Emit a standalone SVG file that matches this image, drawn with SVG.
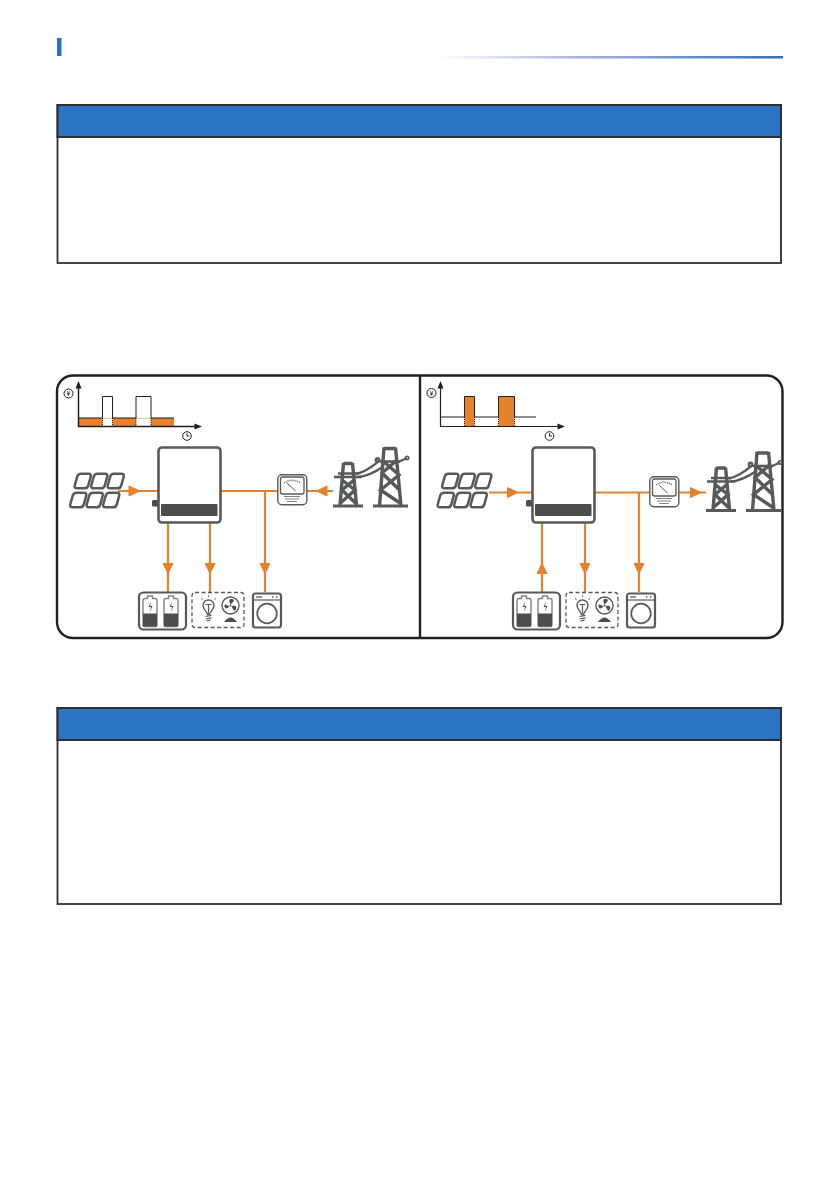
<svg xmlns="http://www.w3.org/2000/svg" xmlns:xlink="http://www.w3.org/1999/xlink" width="839" height="1191" viewBox="0 0 839 1191">
<style>
.tbl{fill:#fff;stroke:#2f2f31;stroke-width:1.800}
.hdr{fill:#2b74c4;stroke:#2f2f31;stroke-width:2}
.frame{fill:none;stroke:#231f20;stroke-width:2.400}
.flow{fill:none;stroke:#e5822b;stroke-width:2.200}
.head{fill:#e5822b;stroke:#e5822b;stroke-width:1;stroke-linejoin:round}
.ic{fill:none;stroke:#58595b;stroke-width:2.500;stroke-linejoin:round}
.axis{fill:none;stroke:#231f20;stroke-width:1.500}
.tw{fill:none;stroke:#58595b;stroke-width:3.400}
.dot{fill:none;stroke:#231f20;stroke-width:1;stroke-dasharray:1 1}
.sym{font-family:"Liberation Sans",sans-serif;font-size:7px;fill:#231f20;text-anchor:middle}
</style>
<defs>
<linearGradient id="rule" x1="0" x2="1" y1="0" y2="0"><stop offset="0" stop-color="#fff"/><stop offset=".4" stop-color="#a9b5dd"/><stop offset="1" stop-color="#2f72bd"/></linearGradient>
<path id="cell" d="M8 1.200h7.500q3 0 2.200 3l-2.400 8.600q-.8 3-3.800 3H4q-3 0-2.200-3l2.400-8.600q.8-3 3.800-3z"/>
<g id="pv" class="ic">
<use xlink:href="#cell" href="#cell" x="0"/>
<use xlink:href="#cell" href="#cell" x="16.500"/>
<use xlink:href="#cell" href="#cell" x="33"/>
</g>
<g id="inverter">
<rect x="1" y="1" width="62" height="75" rx="3.500" fill="#fff" stroke="#58595b" stroke-width="2.600"/>
<rect x="3.500" y="57.500" width="56.500" height="12" rx="1" fill="#4d4d4f"/>
<rect x="-5.500" y="53.500" width="6" height="6.500" rx="1.500" fill="#4d4d4f"/>
</g>
<g id="meter">
<rect x="0.800" y="0.800" width="29" height="30" rx="4" fill="#fff" stroke="#58595b" stroke-width="1.400"/>
<rect x="3.500" y="3" width="23.500" height="17" rx="2" fill="none" stroke="#58595b" stroke-width="1.300"/>
<path d="M7 9Q15 3.500 23.500 9" fill="none" stroke="#58595b" stroke-width="1.500" stroke-dasharray="1 1"/>
<path d="M10 9l8.500 8" fill="none" stroke="#58595b" stroke-width="1"/>
<path d="M7 22.500h16M8 25h14M10 27.500h10" fill="none" stroke="#808285" stroke-width="1"/>
</g>
<g id="towers" class="tw">
<path d="M1 20H29M5 16.500H25" stroke-width="2.600"/>
<path d="M10.500 6.500H19.500M10.500 6L7 48M19.500 6L23.500 48M9 23L22 33L7.500 46M21 23L9 33L22.500 46"/>
<path d="M0 49H30" stroke-width="3"/>
<path d="M50.500 -8.500H62.500M51 -9.500L46.500 49M62.500 -9.500L68 49M50 4L66 18L47.500 33L67 46M63 4L49 16L66.500 33"/>
<path d="M40 49H75" stroke-width="3"/>
<path d="M47 4.500H67" stroke-width="2.600"/>
<path d="M23 17C33 15 40 9 46 4M25 20C37 19 45 13 51 9M63 6L74 1" stroke-width="2.400"/>
<circle cx="44.500" cy="3" r="1.200"/><circle cx="74" cy="1" r=".8"/>
</g>
<g id="loads">
<rect x="1" y="1" width="47" height="37" rx="4.500" fill="none" stroke="#58595b" stroke-width="2.200"/>
<path d="M5 9q0-2 2-2h2.500V4.500h5V7H17q2 0 2 2V33q0 2-2 2H7q-2 0-2-2z" fill="none" stroke="#808285" stroke-width="1.400"/>
<path d="M26 9q0-2 2-2h2.500V4.500h5V7H38q2 0 2 2V33q0 2-2 2H28q-2 0-2-2z" fill="none" stroke="#808285" stroke-width="1.400"/>
<rect x="5" y="22" width="14" height="13" fill="#4d4d4f"/><rect x="26" y="22" width="14" height="13" fill="#4d4d4f"/>
<path d="M13 10l-2.500 5.500h2.500l-1 5 2.500-6h-2.500z" fill="#4d4d4f"/><path d="M34 10l-2.500 5.500h2.500l-1 5 2.500-6h-2.500z" fill="#4d4d4f"/>
<rect x="54" y="1" width="52" height="35" rx="3" fill="none" stroke="#58595b" stroke-width="1.300" stroke-dasharray="4 2.500"/>
<path d="M69.500 23c-1-4-4.500-5-4.500-9a5.500 5.500 0 0 1 11 0c0 4-3.500 5-4.500 9z" fill="none" stroke="#58595b" stroke-width="1.400"/>
<path d="M67.500 13h6M70.500 13v9M67.500 25l6-1.200M67.500 27.500l6-1.200M68.500 29.500l4-.8" fill="none" stroke="#58595b" stroke-width="1.200"/>
<path d="M64.500 8l-1.500-1M70.500 5.500V4M76.500 8l1.500-1" fill="none" stroke="#58595b" stroke-width="1"/>
<circle cx="92.500" cy="14" r="8.500" fill="none" stroke="#58595b" stroke-width="1.400"/>
<circle cx="92.500" cy="14" r="1" fill="#4d4d4f"/>
<path d="M92.500 13Q89.500 7 94 7.500T92.500 13zM93.500 14.500Q99.500 13 98 17.500T93.500 14.500zM91.500 15Q87.500 19 86.500 15T91.500 15z" fill="#4d4d4f"/>
<path d="M86 30.500q6.500-9 13 0z" fill="#4d4d4f"/>
<rect x="115" y="2" width="28" height="34" rx="2.500" fill="none" stroke="#58595b" stroke-width="2.200"/>
<path d="M115 8.500h28" fill="none" stroke="#58595b" stroke-width="1.200"/>
<path d="M118 5.500h6" fill="none" stroke="#58595b" stroke-width="1.300"/><path d="M134 5.500h1.500M138 5.500h1.500" fill="none" stroke="#58595b" stroke-width="1.300"/>
<circle cx="129" cy="22" r="9.800" fill="none" stroke="#58595b" stroke-width="1.700"/>
</g>
<g id="clock"><circle r="4.300" fill="#fff" stroke="#231f20" stroke-width="1"/><path d="M0-2.800V0H2.500" fill="none" stroke="#231f20" stroke-width="1"/></g>
</defs>
<rect width="839" height="1191" fill="#fff"/>
<g id="heading">
<rect x="57" y="38" width="4.500" height="18" fill="#2f6ebb"/>
<rect x="438" y="56" width="345" height="2.500" fill="url(#rule)"/>
</g>
<g id="table-1">
<rect class="tbl" x="57.500" y="105" width="723.500" height="158"/>
<rect class="hdr" x="57.500" y="105" width="723.500" height="32"/>
</g>
<g id="table-2">
<rect class="tbl" x="57.500" y="708" width="723.500" height="196"/>
<rect class="hdr" x="57.500" y="708" width="723.500" height="32"/>
</g>
<g id="frame">
<rect class="frame" x="57" y="375.500" width="725.500" height="262.500" rx="16"/>
<path class="frame" d="M420 375.500V638"/>
</g>
<g id="chart-left">
<rect x="78.500" y="418" width="95.500" height="8" fill="#e5822b"/>
<path d="M78.500 418H102.500V396.500H112.500V418H136V396.500H151V418H174" fill="none" stroke="#231f20" stroke-width="1"/>
<rect x="102.500" y="418.500" width="10" height="8" fill="#fff"/><rect x="136" y="418.500" width="15" height="8" fill="#fff"/>
<path class="dot" d="M102.500 418V426M112.500 418V426M136 418V426M151 418V426"/>
<path class="axis" d="M78.500 384V426.500H198"/>
<path d="M78.500 381l3 7.500h-6zM202 426.500l-7.500 3v-6z" fill="#231f20"/>
<g transform="translate(68.500,393.500)"><circle r="4.500" fill="#fff" stroke="#231f20" stroke-width="1"/><text class="sym" y="2.500">¥</text></g>
<use xlink:href="#clock" href="#clock" x="187" y="436"/>
</g>
<g id="chart-right">
<path d="M441 417H536" fill="none" stroke="#231f20" stroke-width="1"/>
<rect x="464.500" y="396.500" width="10" height="29.500" fill="#e5822b"/>
<rect x="498.500" y="396.500" width="16" height="29.500" fill="#e5822b"/>
<path d="M464.500 417V396.500H474.500V417M498.500 417V396.500H514.500V417" fill="none" stroke="#231f20" stroke-width="1"/>
<path class="dot" d="M464.500 417V426M474.500 417V426M498.500 417V426M514.500 417V426"/>
<path d="M440.500 384V426.500H561" fill="none" stroke="#231f20" stroke-width="1.200"/>
<path d="M440.500 381l3 7.500h-6zM565 426.500l-7.500 3v-6z" fill="#231f20"/>
<g transform="translate(431.500,393)"><circle r="4.500" fill="#fff" stroke="#231f20" stroke-width="1"/><text class="sym" y="2.500">¥</text></g>
<use xlink:href="#clock" href="#clock" x="549.500" y="436"/>
</g>
<g id="connectors">
<path class="flow" d="M118 491H158M221 491H277M307 491H333M265 491V592M168 523V592M210 523V592"/>
<path class="head" d="M140 491l-11-5v10zM316.500 491l10.500-5v10zM168 573.500l-5-10h10zM210 573.500l-5-10h10zM265 573.500l-5-10h10z"/>
<path class="flow" d="M489 492.500H532M595 492.500H649M679 492.500H706M639 492.500V592M542 523V592M585 523V592"/>
<path class="head" d="M518 492.500l-10.500-5v10zM701 492.500l-10.500-5v10zM542 563.500l-5 10h10zM585 573.500l-5-10h10zM639 573.500l-5-10h10z"/>
</g>
<g id="pv-left"><use xlink:href="#pv" href="#pv" x="73" y="472.500"/><use xlink:href="#pv" href="#pv" x="68.500" y="491.500"/></g>
<g id="inverter-left"><use xlink:href="#inverter" href="#inverter" x="157.500" y="446.500"/></g>
<g id="meter-left"><use xlink:href="#meter" href="#meter" x="277" y="474"/></g>
<g id="towers-left"><use xlink:href="#towers" href="#towers" x="333" y="457"/></g>
<g id="loads-left"><use xlink:href="#loads" href="#loads" x="138" y="591.500"/></g>
<g id="pv-right"><use xlink:href="#pv" href="#pv" x="440.500" y="472.500"/><use xlink:href="#pv" href="#pv" x="436" y="491.500"/></g>
<g id="inverter-right"><use xlink:href="#inverter" href="#inverter" x="531.500" y="446.500"/></g>
<g id="meter-right"><use xlink:href="#meter" href="#meter" x="649" y="476"/></g>
<g id="towers-right"><use xlink:href="#towers" href="#towers" x="706" y="461.500"/></g>
<g id="loads-right"><use xlink:href="#loads" href="#loads" x="512" y="591.500"/></g>
</svg>
